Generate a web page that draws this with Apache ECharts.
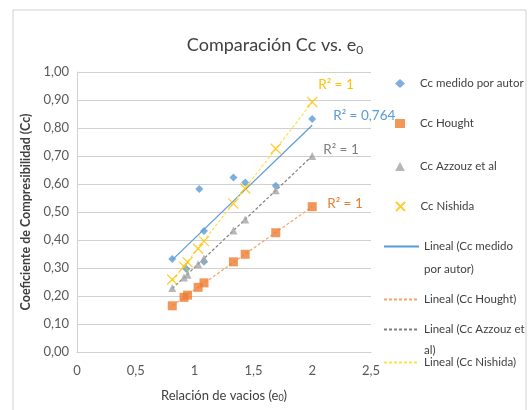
<!DOCTYPE html>
<html><head><meta charset="utf-8">
<script src="https://cdn.jsdelivr.net/npm/echarts@6/dist/echarts.min.js"></script>
<style>html,body{margin:0;padding:0;background:#fff}#c{width:528px;height:410px}</style>
</head><body><div id="c"></div>
<script>
// ---- data ----
const eCommon   = [0.81, 0.91, 0.94, 1.03, 1.08, 1.33, 1.43, 1.69, 2.00];
const ccHought  = [0.165, 0.195, 0.203, 0.231, 0.247, 0.322, 0.349, 0.426, 0.519];
const ccAzzouz  = [0.229, 0.266, 0.276, 0.313, 0.334, 0.434, 0.473, 0.578, 0.700];
const ccNishida = [0.259, 0.305, 0.321, 0.369, 0.396, 0.530, 0.584, 0.726, 0.893];
const eMedido   = [0.81, 0.93, 1.04, 1.08, 1.08, 1.33, 1.43, 1.69, 2.00];
const ccMedido  = [0.332, 0.296, 0.582, 0.432, 0.322, 0.623, 0.605, 0.594, 0.832];
const yTicks = [0, 1, 0.1];
const xTicks = [0, 2.5, 0.5];
const r2Labels = ['R² = 0,764', 'R² = 1', 'R² = 1', 'R² = 1'];
const names = ['Cc medido por autor', 'Cc Hought', 'Cc Azzouz et al', 'Cc Nishida'];
const trendNames = ['Lineal (Cc medido por autor)', 'Lineal (Cc Hought)', 'Lineal (Cc Azzouz et al)', 'Lineal (Cc Nishida)'];

const colors = ['#5B9BD5', '#ED7D31', '#A5A5A5', '#FFC000'];
const trendColors = ['#5B9BD5', '#F4A46E', '#7F7F7F', '#FFE24A'];
const r2Colors = ['#5B9BD5', '#ED7D31', '#7F7F7F', '#FFC000'];
const FONT = 'Lato, "Liberation Sans", sans-serif';

function pairs(xs, ys) { return xs.map((x, i) => [x, ys[i]]); }
function fit(xs, ys) {
  const n = xs.length;
  const mx = xs.reduce((a, b) => a + b, 0) / n, my = ys.reduce((a, b) => a + b, 0) / n;
  let sxy = 0, sxx = 0;
  for (let i = 0; i < n; i++) { sxy += (xs[i] - mx) * (ys[i] - my); sxx += (xs[i] - mx) ** 2; }
  const b = sxy / sxx, a = my - b * mx;
  const x0 = Math.min(...xs), x1 = Math.max(...xs);
  return [[x0, a + b * x0], [x1, a + b * x1]];
}
const sets = [[eMedido, ccMedido], [eCommon, ccHought], [eCommon, ccAzzouz], [eCommon, ccNishida]];
const symbols = ['diamond', 'rect', 'triangle', 'path://M0,0L10,10M10,0L0,10'];
const symSizes = [8, 9, 8, 10];
const r2Offsets = [[16, -10], [10, -3], [6, -6], [1, -18]];

const series = [];
sets.forEach((s, i) => {
  series.push({
    name: names[i], type: 'scatter', data: pairs(s[0], s[1]),
    symbol: symbols[i], symbolSize: symSizes[i],
    itemStyle: i === 3 ? { color: 'transparent', borderColor: colors[i], borderWidth: 1.3 } : { color: colors[i] },
    z: 3
  });
});
sets.forEach((s, i) => {
  const line = fit(s[0], s[1]);
  series.push({
    name: trendNames[i], type: 'line', data: line, symbol: 'none',
    lineStyle: { color: trendColors[i], width: 1.2, type: i === 0 ? 'solid' : [3, 2] },
    itemStyle: { color: trendColors[i] },
    z: 2,
    markPoint: {
      symbol: 'circle', symbolSize: 0,
      data: [{ coord: line[1] }],
      label: { show: true, position: 'right', offset: r2Offsets[i], formatter: r2Labels[i],
               color: r2Colors[i], fontSize: 13.5, fontFamily: FONT }
    }
  });
});

const legendTops = [67, 107, 150, 190, 207, 283, 293, 346];
const legendNames = names.concat(trendNames);
const legends = legendNames.map((n, i) => {
  const isTrend = i >= 4;
  const lh = (i === 6) ? 21 : 23;
  const leg = {
    data: [n], left: isTrend ? 378 : 390, top: legendTops[i], orient: 'vertical',
    itemWidth: isTrend ? 35 : 10, itemHeight: isTrend ? 10 : 9, itemGap: 4,
    textStyle: { color: '#404040', fontSize: 11.5, fontFamily: FONT, lineHeight: lh, padding: isTrend ? 0 : [0, 0, 0, 10] },
    formatter: function (name) {
      if (name === 'Lineal (Cc medido por autor)') return ' \nLineal (Cc medido\npor autor)';
      if (name === 'Lineal (Cc Azzouz et al)') return ' \nLineal (Cc Azzouz et\nal)';
      return name;
    },
    selectedMode: false
  };
  if (isTrend) leg.itemStyle = { opacity: 0 };
  return leg;
});

const chart = echarts.init(document.getElementById('c'), null, { renderer: 'canvas' });
chart.setOption({
  animation: false,
  backgroundColor: '#fff',
  title: {
    text: '{a|Comparación Cc vs. e}{s|0}', left: 270, top: 30, textAlign: 'center',
    textStyle: { fontWeight: 'normal', rich: {
      a: { fontSize: 18, color: '#404040', fontFamily: FONT, fontWeight: 'normal' },
      s: { fontSize: 12, color: '#404040', fontFamily: FONT, fontWeight: 'normal', padding: [9, 0, 0, 0] }
    } }
  },
  graphic: [{ type: 'rect', shape: { x: 13, y: 10, width: 513, height: 420 }, style: { fill: 'none', stroke: '#d0d0d0', lineWidth: 1 }, silent: true, z: -1 }],
  legend: legends,
  grid: { left: 77, right: 157, top: 72, bottom: 58, containLabel: false },
  xAxis: {
    type: 'value', min: xTicks[0], max: xTicks[1], interval: xTicks[2],
    name: '{a|Relación de vacios (e}{s|0}{a|)}', nameLocation: 'middle', nameGap: 36,
    nameTextStyle: { rich: {
      a: { fontSize: 13, color: '#404040', fontFamily: FONT },
      s: { fontSize: 9, color: '#404040', fontFamily: FONT, padding: [6, 0, 0, 0] }
    } },
    axisLine: { show: true, lineStyle: { color: '#d0d0d0' } }, axisTick: { show: false },
    splitLine: { show: false },
    axisLabel: { color: '#595959', fontSize: 13, fontFamily: FONT, margin: 12,
      formatter: v => String(v).replace('.', ',') }
  },
  yAxis: {
    type: 'value', min: yTicks[0], max: yTicks[1], interval: yTicks[2],
    name: 'Coeficiente de Compresibilidad (Cc)', nameLocation: 'middle', nameGap: 44,
    nameTextStyle: { fontSize: 12.5, color: '#404040', fontWeight: 'bold', fontFamily: FONT },
    axisLine: { show: true, lineStyle: { color: '#d0d0d0' } }, axisTick: { show: false },
    splitLine: { show: true, lineStyle: { color: '#d0d0d0' } },
    axisLabel: { color: '#595959', fontSize: 13, fontFamily: FONT, margin: 8,
      formatter: v => v.toFixed(2).replace('.', ',') }
  },
  series: series
});
</script></body></html>
